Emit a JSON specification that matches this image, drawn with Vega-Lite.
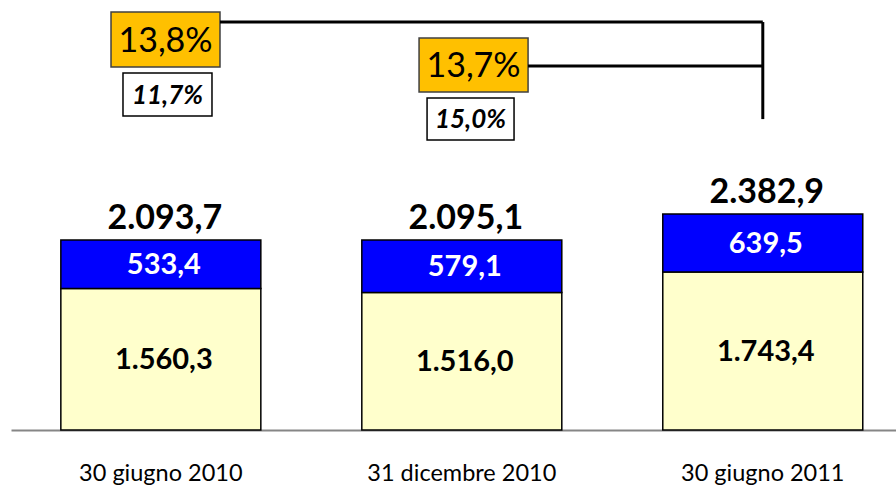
{
  "$schema": "https://vega.github.io/schema/vega-lite/v6.json",
  "width": 885,
  "height": 430,
  "autosize": {"type": "none"},
  "padding": {"left": 11, "top": 0, "right": 0, "bottom": 57},
  "config": {
    "view": {"stroke": null},
    "font": "Lato",
    "locale": {"number": {"decimal": ",", "thousands": ".", "grouping": [3], "currency": ["€", ""]}}
  },
  "datasets": {
    "bars": [
      {"data": "30 giugno 2010", "serie": "inferiore", "valore": 1560.3},
      {"data": "30 giugno 2010", "serie": "superiore", "valore": 533.4},
      {"data": "31 dicembre 2010", "serie": "inferiore", "valore": 1516.0},
      {"data": "31 dicembre 2010", "serie": "superiore", "valore": 579.1},
      {"data": "30 giugno 2011", "serie": "inferiore", "valore": 1743.4},
      {"data": "30 giugno 2011", "serie": "superiore", "valore": 639.5}
    ],
    "boxes": [
      {"tipo": "a", "perc": 0.138, "x1": -0.1656, "x2": 0.1965, "y1": 4609, "y2": 4002, "tx": 0.0155, "ty": 4305},
      {"tipo": "b", "perc": 0.117, "x1": -0.1258, "x2": 0.1699, "y1": 3936, "y2": 3462, "tx": 0.022, "ty": 3699},
      {"tipo": "a", "perc": 0.137, "x1": 0.8579, "x2": 1.2201, "y1": 4322, "y2": 3727, "tx": 1.0388, "ty": 4024},
      {"tipo": "b", "perc": 0.150, "x1": 0.8845, "x2": 1.1735, "y1": 3660, "y2": 3197, "tx": 1.0288, "ty": 3429}
    ],
    "lines": [
      {"x1": 0.1965, "x2": 2.0, "y1": 4498, "y2": 4498},
      {"x1": 2.0, "x2": 2.0, "y1": 4498, "y2": 3428},
      {"x1": 1.2201, "x2": 2.0, "y1": 4013, "y2": 4013}
    ]
  },
  "layer": [
    {
      "data": {"name": "bars"},
      "encoding": {
        "x": {
          "field": "data", "type": "nominal", "sort": null,
          "scale": {"paddingInner": 0.3355, "paddingOuter": 0.138, "align": 0.6},
          "axis": {
            "title": null, "ticks": false, "labelAngle": 0, "labelLimit": 400,
            "labelFont": "Lato", "labelFontSize": 23.5, "labelColor": "black",
            "labelPadding": 31, "domainColor": "#868686", "domainWidth": 2
          }
        }
      },
      "layer": [
        {
          "mark": {"type": "bar", "stroke": "black", "strokeWidth": 1.5},
          "encoding": {
            "y": {"field": "valore", "type": "quantitative", "stack": "zero",
                  "scale": {"domain": [0, 4741], "nice": false}, "axis": null},
            "color": {"field": "serie", "type": "nominal",
                      "scale": {"domain": ["inferiore", "superiore"], "range": ["#FFFFCC", "#0000FF"]},
                      "legend": null},
            "order": {"field": "serie", "type": "ordinal", "sort": "ascending"}
          }
        },
        {
          "mark": {"type": "text", "fontSize": 29, "fontWeight": "bold", "baseline": "middle", "dx": 3, "dy": 1},
          "encoding": {
            "y": {"field": "valore", "type": "quantitative", "stack": "zero", "bandPosition": 0.5},
            "detail": {"field": "serie", "type": "nominal"},
            "order": {"field": "serie", "type": "ordinal", "sort": "ascending"},
            "text": {"field": "valore", "type": "quantitative", "format": ",.1f"},
            "fill": {"condition": {"test": "datum.serie === 'superiore'", "value": "white"}, "value": "black"}
          }
        },
        {
          "mark": {"type": "text", "fontSize": 34, "fontWeight": "bold", "baseline": "alphabetic", "dx": 4, "dy": -11, "fill": "black"},
          "encoding": {
            "y": {"aggregate": "sum", "field": "valore", "type": "quantitative"},
            "text": {"aggregate": "sum", "field": "valore", "type": "quantitative", "format": ",.1f"}
          }
        }
      ]
    },
    {
      "layer": [
        {
          "data": {"name": "boxes"},
          "mark": {"type": "rect", "strokeWidth": 1.5},
          "encoding": {
            "x": {"field": "x1", "type": "quantitative",
                  "scale": {"domain": [-0.4979, 2.4426], "nice": false, "zero": false}, "axis": null},
            "x2": {"field": "x2"},
            "y": {"field": "y1", "type": "quantitative", "scale": {"domain": [0, 4741], "nice": false}, "axis": null},
            "y2": {"field": "y2"},
            "fill": {"condition": {"test": "datum.tipo === 'a'", "value": "#FFC000"}, "value": "white"},
            "stroke": {"condition": {"test": "datum.tipo === 'a'", "value": "#404040"}, "value": "black"}
          }
        },
        {
          "data": {"name": "boxes"},
          "transform": [{"filter": "datum.tipo === 'a'"}],
          "mark": {"type": "text", "fontSize": 34, "baseline": "middle", "dy": 2, "fill": "black"},
          "encoding": {
            "x": {"field": "tx", "type": "quantitative"},
            "y": {"field": "ty", "type": "quantitative"},
            "text": {"field": "perc", "type": "quantitative", "format": ".1%"}
          }
        },
        {
          "data": {"name": "boxes"},
          "transform": [{"filter": "datum.tipo === 'b'"}],
          "mark": {"type": "text", "fontSize": 26, "fontWeight": "bold", "fontStyle": "italic", "baseline": "middle", "dy": 1, "fill": "black"},
          "encoding": {
            "x": {"field": "tx", "type": "quantitative"},
            "y": {"field": "ty", "type": "quantitative"},
            "text": {"field": "perc", "type": "quantitative", "format": ".1%"}
          }
        },
        {
          "data": {"name": "lines"},
          "mark": {"type": "rule", "stroke": "black", "strokeWidth": 3},
          "encoding": {
            "x": {"field": "x1", "type": "quantitative"},
            "x2": {"field": "x2"},
            "y": {"field": "y1", "type": "quantitative"},
            "y2": {"field": "y2"}
          }
        }
      ]
    }
  ],
  "resolve": {"scale": {"x": "independent"}}
}
